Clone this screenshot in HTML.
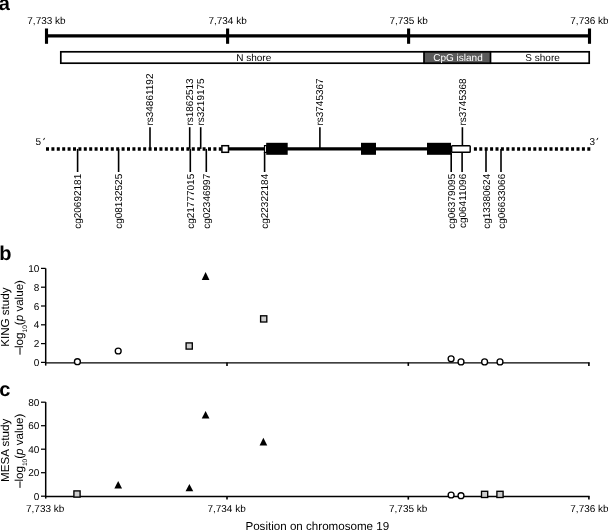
<!DOCTYPE html>
<html><head><meta charset="utf-8"><title>Figure</title>
<style>
html,body{margin:0;padding:0;background:#fff;width:608px;height:530px;overflow:hidden;}
svg{display:block;will-change:transform;}
text{font-family:"Liberation Sans", sans-serif;fill:#000;text-rendering:geometricPrecision;}
.t10{font-size:10px;}
.t12{font-size:11.6px;}
.sub{font-size:6.6px;}
.lab{font-size:20px;font-weight:bold;}
.w{fill:#fff;}
</style></head><body>
<svg width="608" height="530" viewBox="0 0 608 530">
<rect width="608" height="530" fill="#fff"/>
<text x="-1.3" y="10.4" class="lab">a</text>
<text x="46.5" y="23.6" class="t10" text-anchor="middle">7,733 kb</text>
<text x="227.6" y="23.6" class="t10" text-anchor="middle">7,734 kb</text>
<text x="408.6" y="23.6" class="t10" text-anchor="middle">7,735 kb</text>
<text x="589.5" y="23.6" class="t10" text-anchor="middle">7,736 kb</text>
<line x1="46.5" y1="35.93" x2="589.5" y2="35.93" stroke="#000" stroke-width="3.2"/>
<rect x="44.95" y="28.5" width="3.1" height="15.3" fill="#000"/>
<rect x="226.04999999999998" y="28.5" width="3.1" height="15.3" fill="#000"/>
<rect x="407.05" y="28.5" width="3.1" height="15.3" fill="#000"/>
<rect x="587.95" y="28.5" width="3.1" height="15.3" fill="#000"/>
<rect x="60.8" y="51.8" width="528.4" height="11.4" fill="#fff" stroke="#000" stroke-width="1.7"/>
<rect x="424" y="51.8" width="66.5" height="11.4" fill="#5a5a5a" stroke="#000" stroke-width="1.7"/>
<text x="236.2" y="60.9" class="t10">N shore</text>
<text x="458" y="60.9" class="t10 w" text-anchor="middle">CpG island</text>
<text x="542.6" y="60.9" class="t10" text-anchor="middle">S shore</text>
<line x1="46" y1="148.9" x2="221.5" y2="148.9" stroke="#000" stroke-width="3.5" stroke-dasharray="3 2.4"/>
<line x1="473.9" y1="148.9" x2="590.6" y2="148.9" stroke="#000" stroke-width="3.5" stroke-dasharray="3 2.4"/>
<line x1="228" y1="148.9" x2="452" y2="148.9" stroke="#000" stroke-width="3.3"/>
<rect x="221.9" y="145.7" width="6.6" height="6.6" fill="#fff" stroke="#000" stroke-width="1.5"/>
<rect x="264.5" y="145.6" width="2.2" height="6.8" fill="#fff" stroke="#000" stroke-width="1.2"/>
<rect x="266.2" y="142.8" width="21.5" height="12" fill="#000"/>
<rect x="361" y="142.8" width="15" height="12" fill="#000"/>
<rect x="427" y="142.8" width="24" height="12" fill="#000"/>
<rect x="451.6" y="145.7" width="18.6" height="6.6" rx="0.8" fill="#fff" stroke="#000" stroke-width="1.5"/>
<text x="35.6" y="145.2" class="t10">5</text>
<line x1="44.6" y1="137.9" x2="43.5" y2="140.1" stroke="#000" stroke-width="0.9"/>
<text x="589.6" y="145.2" class="t10">3</text>
<line x1="597.9" y1="137.9" x2="596.8" y2="140.1" stroke="#000" stroke-width="0.9"/>
<line x1="150" y1="127.2" x2="150" y2="148.9" stroke="#000" stroke-width="1.6"/>
<text transform="translate(153.4,125.6) rotate(-90)" class="t10">rs34861192</text>
<line x1="189.7" y1="127.2" x2="189.7" y2="148.9" stroke="#000" stroke-width="1.6"/>
<text transform="translate(193.1,125.6) rotate(-90)" class="t10">rs1862513</text>
<line x1="200.7" y1="127.2" x2="200.7" y2="148.9" stroke="#000" stroke-width="1.6"/>
<text transform="translate(204.1,125.6) rotate(-90)" class="t10">rs3219175</text>
<line x1="319.9" y1="127.2" x2="319.9" y2="148.9" stroke="#000" stroke-width="1.6"/>
<text transform="translate(323.29999999999995,125.6) rotate(-90)" class="t10">rs3745367</text>
<line x1="462.4" y1="127.2" x2="462.4" y2="145.8" stroke="#000" stroke-width="1.6"/>
<text transform="translate(465.79999999999995,125.6) rotate(-90)" class="t10">rs3745368</text>
<line x1="77.6" y1="148.9" x2="77.6" y2="172" stroke="#000" stroke-width="1.6"/>
<text transform="translate(81.19999999999999,173.8) rotate(-90)" class="t10" text-anchor="end">cg20692181</text>
<line x1="118.6" y1="148.9" x2="118.6" y2="172" stroke="#000" stroke-width="1.6"/>
<text transform="translate(122.19999999999999,173.8) rotate(-90)" class="t10" text-anchor="end">cg08132525</text>
<line x1="190.3" y1="148.9" x2="190.3" y2="172" stroke="#000" stroke-width="1.6"/>
<text transform="translate(193.9,173.8) rotate(-90)" class="t10" text-anchor="end">cg21777015</text>
<line x1="206.3" y1="148.9" x2="206.3" y2="172" stroke="#000" stroke-width="1.6"/>
<text transform="translate(209.9,173.8) rotate(-90)" class="t10" text-anchor="end">cg02346997</text>
<line x1="264.6" y1="152" x2="264.6" y2="172" stroke="#000" stroke-width="1.6"/>
<text transform="translate(268.20000000000005,173.8) rotate(-90)" class="t10" text-anchor="end">cg22322184</text>
<line x1="451.2" y1="152.5" x2="451.2" y2="172" stroke="#000" stroke-width="1.6"/>
<text transform="translate(454.8,173.8) rotate(-90)" class="t10" text-anchor="end">cg06379095</text>
<line x1="462.1" y1="152.5" x2="462.1" y2="172" stroke="#000" stroke-width="1.6"/>
<text transform="translate(465.70000000000005,173.8) rotate(-90)" class="t10" text-anchor="end">cg06411096</text>
<line x1="486" y1="148.9" x2="486" y2="172" stroke="#000" stroke-width="1.6"/>
<text transform="translate(489.6,173.8) rotate(-90)" class="t10" text-anchor="end">cg13380624</text>
<line x1="501" y1="148.9" x2="501" y2="172" stroke="#000" stroke-width="1.6"/>
<text transform="translate(504.6,173.8) rotate(-90)" class="t10" text-anchor="end">cg06633066</text>
<text x="-0.8" y="260" class="lab">b</text>
<line x1="45.7" y1="268.4" x2="45.7" y2="365.6" stroke="#000" stroke-width="1.5"/>
<line x1="45.7" y1="362.85" x2="589.6" y2="362.85" stroke="#000" stroke-width="1.2"/>
<line x1="227.0" y1="362.5" x2="227.0" y2="365.9" stroke="#000" stroke-width="1.6"/>
<line x1="408.3" y1="362.5" x2="408.3" y2="365.9" stroke="#000" stroke-width="1.6"/>
<line x1="588.9" y1="362.5" x2="588.9" y2="365.9" stroke="#000" stroke-width="1.6"/>
<line x1="41" y1="362.40" x2="45.7" y2="362.40" stroke="#000" stroke-width="1.25"/>
<text x="39.4" y="365.90" class="t10" text-anchor="end">0</text>
<line x1="41" y1="343.60" x2="45.7" y2="343.60" stroke="#000" stroke-width="1.25"/>
<text x="39.4" y="347.10" class="t10" text-anchor="end">2</text>
<line x1="41" y1="324.80" x2="45.7" y2="324.80" stroke="#000" stroke-width="1.25"/>
<text x="39.4" y="328.30" class="t10" text-anchor="end">4</text>
<line x1="41" y1="306.00" x2="45.7" y2="306.00" stroke="#000" stroke-width="1.25"/>
<text x="39.4" y="309.50" class="t10" text-anchor="end">6</text>
<line x1="41" y1="287.20" x2="45.7" y2="287.20" stroke="#000" stroke-width="1.25"/>
<text x="39.4" y="290.70" class="t10" text-anchor="end">8</text>
<line x1="41" y1="268.40" x2="45.7" y2="268.40" stroke="#000" stroke-width="1.25"/>
<text x="39.4" y="271.90" class="t10" text-anchor="end">10</text>
<text transform="translate(9.3,317.1) rotate(-90)" class="t12" text-anchor="middle">KING study</text>
<text transform="translate(22.9,348.0) rotate(-90)" class="t12">log<tspan class="sub" dy="4.2">10</tspan><tspan dy="-4.2">(</tspan><tspan font-style="italic">p</tspan> value)</text>
<line x1="20" y1="347.6" x2="20" y2="354.7" stroke="#000" stroke-width="1.0"/>
<circle cx="77.4" cy="361.7" r="2.95" fill="#fff" stroke="#000" stroke-width="1.35"/>
<circle cx="118.2" cy="351.0" r="2.95" fill="#fff" stroke="#000" stroke-width="1.35"/>
<rect x="186.1" y="342.9" width="6.2" height="6.2" fill="#cdcdcd" stroke="#000" stroke-width="1.35"/>
<polygon points="205.6,272.0 201.75,279.9 209.45,279.9" fill="#000"/>
<rect x="260.59999999999997" y="315.79999999999995" width="6.2" height="6.2" fill="#cdcdcd" stroke="#000" stroke-width="1.35"/>
<circle cx="451.1" cy="358.8" r="2.95" fill="#fff" stroke="#000" stroke-width="1.35"/>
<circle cx="461.0" cy="361.9" r="2.95" fill="#fff" stroke="#000" stroke-width="1.35"/>
<circle cx="484.6" cy="361.9" r="2.95" fill="#fff" stroke="#000" stroke-width="1.35"/>
<circle cx="500.0" cy="361.9" r="2.95" fill="#fff" stroke="#000" stroke-width="1.35"/>
<text x="-0.7" y="395.5" class="lab">c</text>
<line x1="45.7" y1="402.1" x2="45.7" y2="498.6" stroke="#000" stroke-width="1.5"/>
<line x1="45.7" y1="496.5" x2="589.6" y2="496.5" stroke="#000" stroke-width="1.3"/>
<line x1="227.0" y1="496.2" x2="227.0" y2="499.59999999999997" stroke="#000" stroke-width="1.6"/>
<line x1="408.3" y1="496.2" x2="408.3" y2="499.59999999999997" stroke="#000" stroke-width="1.6"/>
<line x1="588.9" y1="496.2" x2="588.9" y2="499.59999999999997" stroke="#000" stroke-width="1.6"/>
<line x1="41" y1="496.20" x2="45.7" y2="496.20" stroke="#000" stroke-width="1.25"/>
<text x="39.4" y="499.70" class="t10" text-anchor="end">0</text>
<line x1="41" y1="472.70" x2="45.7" y2="472.70" stroke="#000" stroke-width="1.25"/>
<text x="39.4" y="476.20" class="t10" text-anchor="end">20</text>
<line x1="41" y1="449.20" x2="45.7" y2="449.20" stroke="#000" stroke-width="1.25"/>
<text x="39.4" y="452.70" class="t10" text-anchor="end">40</text>
<line x1="41" y1="425.70" x2="45.7" y2="425.70" stroke="#000" stroke-width="1.25"/>
<text x="39.4" y="429.20" class="t10" text-anchor="end">60</text>
<line x1="41" y1="402.20" x2="45.7" y2="402.20" stroke="#000" stroke-width="1.25"/>
<text x="39.4" y="405.70" class="t10" text-anchor="end">80</text>
<text transform="translate(9.3,450.3) rotate(-90)" class="t12" text-anchor="middle">MESA study</text>
<text transform="translate(22.9,481.6) rotate(-90)" class="t12">log<tspan class="sub" dy="4.2">10</tspan><tspan dy="-4.2">(</tspan><tspan font-style="italic">p</tspan> value)</text>
<line x1="20" y1="481.4" x2="20" y2="487.9" stroke="#000" stroke-width="1.0"/>
<rect x="73.9" y="490.9" width="6.2" height="6.2" fill="#cdcdcd" stroke="#000" stroke-width="1.35"/>
<polygon points="118.2,481.0 114.35000000000001,488.4 122.05,488.4" fill="#000"/>
<polygon points="189.4,484.0 185.55,491.2 193.25,491.2" fill="#000"/>
<polygon points="205.6,411.0 201.75,418.4 209.45,418.4" fill="#000"/>
<polygon points="263.4,437.7 259.54999999999995,445.5 267.25,445.5" fill="#000"/>
<circle cx="451.1" cy="495.0" r="2.95" fill="#fff" stroke="#000" stroke-width="1.35"/>
<circle cx="461.0" cy="495.7" r="2.95" fill="#fff" stroke="#000" stroke-width="1.35"/>
<rect x="481.5" y="491.29999999999995" width="6.2" height="6.2" fill="#cdcdcd" stroke="#000" stroke-width="1.35"/>
<rect x="496.9" y="491.29999999999995" width="6.2" height="6.2" fill="#cdcdcd" stroke="#000" stroke-width="1.35"/>
<text x="45.2" y="512.4" class="t10" text-anchor="middle">7,733 kb</text>
<text x="226.6" y="512.4" class="t10" text-anchor="middle">7,734 kb</text>
<text x="408.2" y="512.4" class="t10" text-anchor="middle">7,735 kb</text>
<text x="589.5" y="512.4" class="t10" text-anchor="middle">7,736 kb</text>
<text x="317.3" y="530" class="t12" text-anchor="middle">Position on chromosome 19</text>
</svg>
</body></html>
